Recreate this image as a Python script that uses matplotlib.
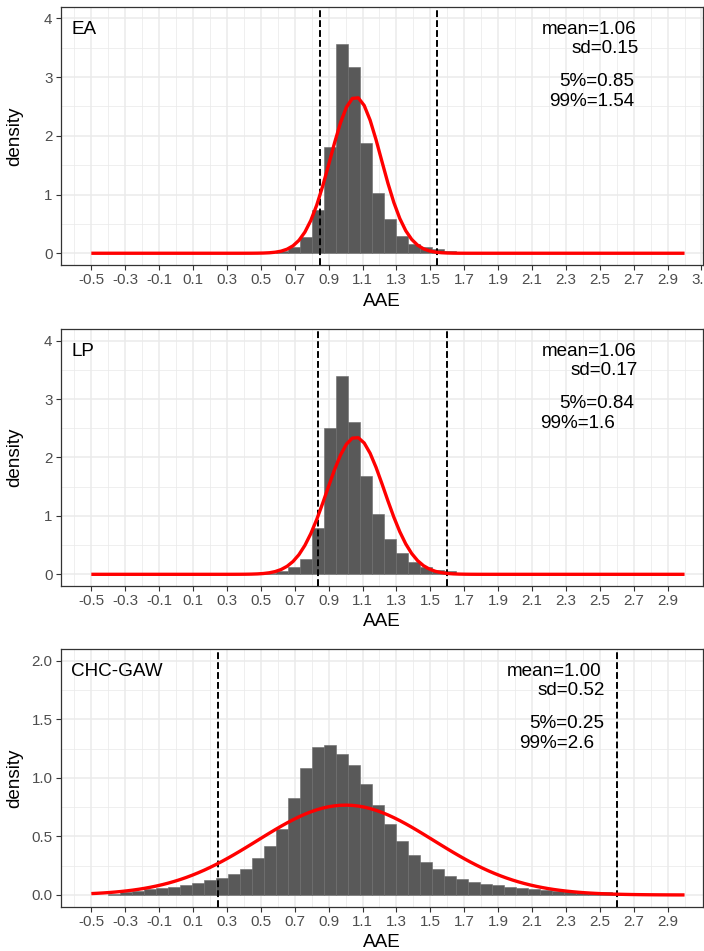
import numpy as np
import matplotlib

matplotlib.use("Agg")
import matplotlib.pyplot as plt
from matplotlib.ticker import FixedLocator

plt.rcParams["font.family"] = ["Liberation Sans", "DejaVu Sans"]

# --- data ------------------------------------------------------------------
panel_names = ["EA", "LP", "CHC-GAW"]
means = [1.06, 1.06, 1.00]
sds = [0.15, 0.17, 0.52]
q05 = [0.85, 0.84, 0.25]
q99 = [1.54, 1.6, 2.6]
stat_labels = [
    ["mean=1.06", "sd=0.15", "5%=0.85", "99%=1.54"],
    ["mean=1.06", "sd=0.17", "5%=0.84", "99%=1.6"],
    ["mean=1.00", "sd=0.52", "5%=0.25", "99%=2.6"],
]

bin_width = 0.0708
ea_start = 0.591
ea_density = [0.03, 0.10, 0.28, 0.73, 1.81, 3.57, 3.18, 1.88, 1.03, 0.58,
              0.29, 0.16, 0.10, 0.07, 0.04]
lp_start = 0.520
lp_density = [0.02, 0.05, 0.13, 0.27, 0.79, 2.50, 3.40, 2.61, 1.68, 1.04,
              0.60, 0.36, 0.21, 0.12, 0.07, 0.05]
chc_start = -0.400
chc_density = [0.010, 0.023, 0.037, 0.054, 0.063, 0.071, 0.085, 0.105, 0.125,
               0.148, 0.179, 0.222, 0.316, 0.418, 0.560, 0.830, 1.080, 1.266,
               1.277, 1.206, 1.109, 0.947, 0.768, 0.606, 0.458, 0.338, 0.282,
               0.219, 0.165, 0.139, 0.111, 0.094, 0.082, 0.071, 0.060, 0.051,
               0.043, 0.037, 0.031, 0.028, 0.026, 0.023, 0.020, 0.014]
hist_starts = [ea_start, lp_start, chc_start]
hist_density = [ea_density, lp_density, chc_density]

x_tick_last = [3.1, 2.9, 2.9]
y_top = [4.0, 4.0, 2.0]
y_step = [1.0, 1.0, 0.5]

curve_range = (-0.5, 3.0)

# --- layout (pixels in a 704x951 canvas) ------------------------------------
W, H = 704, 951
LEFT, RIGHT = 61, 703
panel_tb = [(6.6, 265.0), (328.9, 586.0), (649.0, 906.7)]
# right edge (data x) of each annotation line, per panel
text_right = [
    [2.714, 2.731, 2.702, 2.702],
    [2.714, 2.725, 2.702, 2.590],
    [2.511, 2.531, 2.525, 2.466],
]
text_drop = [27, 46.3, 79, 99]  # baseline offset (px) below panel top

GRID = "#ebebeb"
DARK = "#333333"

fig = plt.figure(figsize=(W / 100, H / 100), dpi=100)

for i, name in enumerate(panel_names):
    top, bot = panel_tb[i]
    ax = fig.add_axes([LEFT / W, 1 - bot / H, (RIGHT - LEFT) / W, (bot - top) / H])
    ax_h = bot - top

    dens = np.array(hist_density[i])
    lefts = hist_starts[i] + bin_width * np.arange(len(dens))
    ax.bar(lefts, dens, width=bin_width, align="edge", color="#595959",
           edgecolor="#6c6c6c", linewidth=0.4, zorder=2)

    for q in (q05[i], q99[i]):
        ax.axvline(q, color="black", lw=1.4, dashes=(3.5, 1.6), zorder=3)

    xs = np.linspace(curve_range[0], curve_range[1], 101)
    ys = np.exp(-0.5 * ((xs - means[i]) / sds[i]) ** 2) / (sds[i] * np.sqrt(2 * np.pi))
    ax.plot(xs, ys, color="red", lw=2.4, solid_capstyle="butt", zorder=4)

    # axes, ticks, grid
    ax.set_xlim(-0.679, 3.109)
    ax.set_ylim(-0.05 * y_top[i] * 1.0, y_top[i] * 1.05)
    xt = np.round(np.arange(-0.5, x_tick_last[i] + 0.01, 0.2), 1)
    ax.set_xticks(xt)
    ax.set_xticklabels([f"{v:.1f}" for v in xt])
    ax.xaxis.set_minor_locator(FixedLocator(np.round(np.arange(-0.6, 3.11, 0.2), 1)))
    yt = np.arange(0, y_top[i] + 0.001, y_step[i])
    ax.set_yticks(yt)
    if y_step[i] < 1:
        ax.set_yticklabels([f"{v:.1f}" for v in yt])
    else:
        ax.set_yticklabels([f"{v:.0f}" for v in yt])
    ax.yaxis.set_minor_locator(FixedLocator(yt[:-1] + y_step[i] / 2))

    ax.grid(which="major", color=GRID, lw=1.1, zorder=0)
    ax.grid(which="minor", color=GRID, lw=0.55, zorder=0)
    ax.set_axisbelow(True)
    ax.tick_params(which="major", length=3.4, width=0.8, color=DARK,
                   labelsize=10.9, labelcolor="#4d4d4d", pad=2.7)
    ax.tick_params(which="minor", length=0)
    for sp in ax.spines.values():
        sp.set_color(DARK)
        sp.set_linewidth(0.9)
        sp.set_zorder(5)

    ax.set_xlabel("AAE", fontsize=13.6, color="black")
    ax.set_ylabel("density", fontsize=13.6, color="black")
    ax.xaxis.set_label_coords(0.5, -27.5 / ax_h)
    ax.yaxis.set_label_coords((23.5 - LEFT) / (RIGHT - LEFT), 0.5)

    # panel name and summary text
    ax.annotate(name, xy=(0, 1), xycoords="axes fraction", xytext=(10.5, -text_drop[0]),
                textcoords="offset pixels", ha="left", va="baseline", fontsize=13.6)
    for line, xr, dy in zip(stat_labels[i], text_right[i], text_drop):
        ax.annotate(line, xy=(xr, 1), xycoords=("data", "axes fraction"),
                    xytext=(0, -dy), textcoords="offset pixels",
                    ha="right", va="baseline", fontsize=13.6)

fig.savefig("out.png", dpi=100)
